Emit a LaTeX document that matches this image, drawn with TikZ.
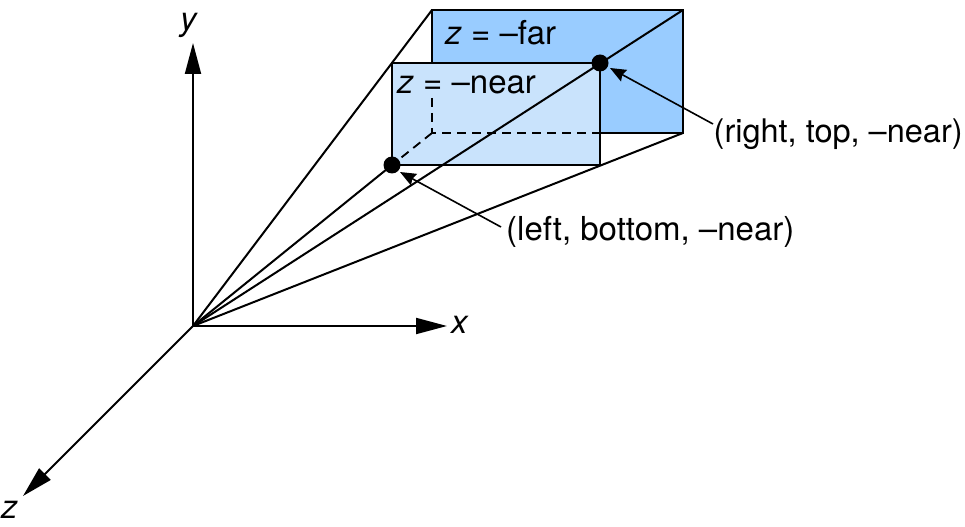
\documentclass[tikz,border=0pt]{standalone}
\usepackage{fontspec}
\setmainfont{TeX Gyre Heros}
\usetikzlibrary{arrows.meta,calc}
\definecolor{farblue}{HTML}{99CCFF}
\definecolor{nearblue}{HTML}{C9E3FC}
\tikzset{
  ln/.style={line width=2bp,black,line cap=round,line join=miter},
  dsh/.style={line width=1.8bp,black,dash pattern=on 9bp off 6bp},
  axis/.style={ln,-{Triangle[length=31bp,width=16bp]}},
  lead/.style={line width=1.6bp,black,-{Stealth[length=16bp,width=13bp,inset=2bp]}},
  lab/.style={font=\fontsize{33bp}{38bp}\selectfont,inner sep=0pt,black},
  labsmall/.style={font=\fontsize{32.5bp}{38bp}\selectfont,inner sep=0pt,black},
  dot/.style={circle,fill=black,inner sep=0pt,minimum size=17bp}
}
\begin{document}
\begin{tikzpicture}[x=1bp,y=-1bp]
\useasboundingbox (0,0) rectangle (965,527);
\coordinate (O) at (193,326);
\coordinate (ytip) at (193,43);
\coordinate (xtip) at (447,326);
\coordinate (ztip) at (23,496);
\coordinate (ftl) at (432,10);
\coordinate (ftr) at (683,10);
\coordinate (fbr) at (683,133);
\coordinate (fbl) at (432,133);
\coordinate (ntl) at (392,63);
\coordinate (ntr) at (600,63);
\coordinate (nbr) at (600,165);
\coordinate (nbl) at (392,165);
\coordinate (dtop) at (432,98);
\coordinate (dright) at (600,133);
% planes
\draw[ln,fill=farblue] (ftl) -- (ftr) -- (fbr) -- (fbl) -- cycle;
\draw[ln,fill=nearblue] (ntl) -- (ntr) -- (nbr) -- (nbl) -- cycle;
\draw[dsh] (dtop) -- (fbl) -- (dright);
\draw[dsh] (fbl) -- (nbl);
% frustum edges
\draw[ln] (O) -- (ftl);
\draw[ln] (O) -- (ftr);
\draw[ln] (O) -- (fbr);
\draw[ln] (O) -- (nbl);
% axes
\draw[axis] (O) -- (ytip);
\draw[axis] (O) -- (xtip);
\draw[axis] (O) -- (ztip);
% points
\node[dot] (pa) at (nbl) {};
\node[dot] (pb) at (ntr) {};
% labels
\node[lab,anchor=base west] (ly) at (180,31) {\itshape y};
\node[lab,anchor=base west] (lx) at (451,334) {\itshape x};
\node[lab,anchor=base west] (lz) at (1,518) {\itshape z};
\node[lab,anchor=base west] (lfar) at (445,44.5) {\textit{z} = –far};
\node[lab,anchor=base west] (lnear) at (397,93.5) {\textit{z} = –near};
\node[labsmall,anchor=base west] (lrt) at (713.5,143) {(right, top, –near)};
\node[lab,anchor=base west] (llb) at (506,241) {(left, bottom, –near)};
% leaders
\coordinate (rtstart) at ($(lrt.base west)+(-0.5,-19)$);
\coordinate (lbstart) at ($(llb.base west)+(-5,-14)$);
\draw[lead] (rtstart) -- ($(pb)+(10,5)$);
\draw[lead] (lbstart) -- ($(pa)+(8,7)$);
\end{tikzpicture}
\end{document}
